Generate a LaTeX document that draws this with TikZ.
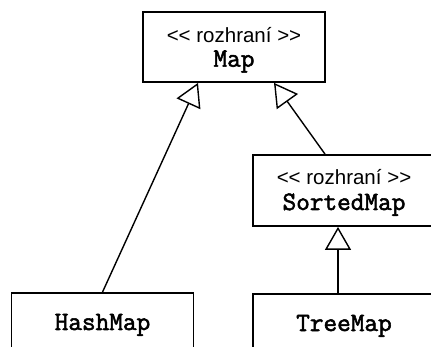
\documentclass[tikz,border=0pt]{standalone}
\usepackage{fontspec}
\setmainfont{Liberation Sans}
\newfontfamily\monob{Latin Modern Mono}[FakeBold=2]
\usetikzlibrary{arrows.meta}
\newcommand{\stereo}{{\fontsize{20.5}{24}\selectfont <\kern0pt< rozhraní >\kern0pt>}}
\newcommand{\cname}[1]{{\monob\fontsize{26.5}{30}\selectfont #1}}
\begin{document}
\begin{tikzpicture}[x=1pt,y=-1pt,
  classbox/.style={draw=black, line width=1.8pt, fill=white, minimum width=182pt, inner sep=0pt},
  txt/.style={anchor=base, inner sep=0pt},
  inh/.style={line width=1.4pt, -{Triangle[length=23pt,width=26pt,fill=white]}}]
\useasboundingbox (0,0) rectangle (431,347);
\clip (0,0) rectangle (431,347);
\fill[white] (0,0) rectangle (431,347);
% boxes
\node[classbox, minimum height=70pt] (map) at (234,47) {};
\node[classbox, minimum height=71pt] (sorted) at (344,190.5) {};
\node[classbox, minimum height=70pt] (hash) at (102.5,328) {};
\node[classbox, minimum height=70pt] (tree) at (344,329) {};
% texts
\node[txt] (mapst) at (234,42.7) {\stereo};
\node[txt] (mapnm) at (234,66.7) {\cname{Map}};
\node[txt] (sortst) at (344,185) {\stereo};
\node[txt] (sortnm) at (344,210) {\cname{SortedMap}};
\node[txt] (hashnm) at (102.5,330) {\cname{HashMap}};
\node[txt] (treenm) at (344,331) {\cname{TreeMap}};
% connectors
\draw[inh] (hash.north) -- ([xshift=-36pt]map.south);
\draw[inh] ([xshift=-19pt]sorted.north) -- ([xshift=40pt]map.south);
\draw[inh] ([xshift=-6pt]tree.north) -- ([xshift=-6pt]sorted.south);
\end{tikzpicture}
\end{document}
